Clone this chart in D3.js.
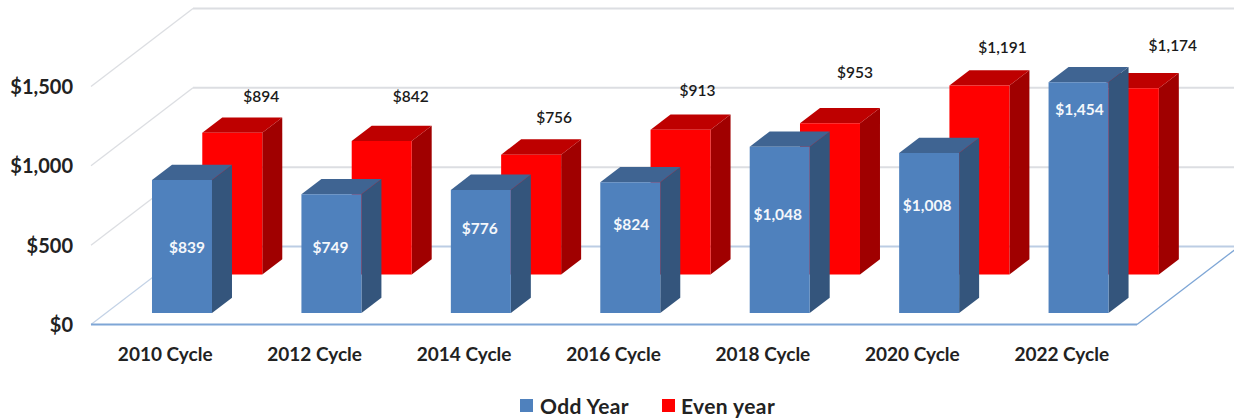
<!DOCTYPE html>
<html><head><meta charset="utf-8">
<script src="https://cdnjs.cloudflare.com/ajax/libs/d3/7.8.5/d3.min.js"></script>
<style>html,body{margin:0;padding:0;background:#fff}svg{display:block}text{font-family:Lato,"Open Sans",sans-serif}</style>
</head><body><svg id="c" width="1234" height="419"></svg>
<script>
const categories = ["2010 Cycle","2012 Cycle","2014 Cycle","2016 Cycle","2018 Cycle","2020 Cycle","2022 Cycle"];
const oddYear  = [839,749,776,824,1048,1008,1454];
const evenYear = [894,842,756,913,953,1191,1174];
const yTicks = [0,500,1000,1500];
const seriesNames = ["Odd Year","Even year"];
// where the hand-placed value labels sit, in dollars along the bar's own height
const oddLabelLevel  = [415,415,535,560,622,679,1283];
const evenLabelLevel = [1124,1124,992,1162,1276,1436,1449];
const oddLabelShift  = [5,-1,-1,1,-2,-2,1];
const evenLabelShift = [-1,-1,-7,-13,-5,-7,14];

const W=1234,H=419;
const svg=d3.select("#c");
const x=d3.scaleBand().domain(categories).range([91,1137]).paddingInner(0).paddingOuter(0);
const y=d3.scaleLinear().domain([0,1500]).range([324.5,86.5]);
const zx=d3.scaleLinear().domain([0,1]).range([0,102]);
const zy=d3.scaleLinear().domain([0,1]).range([0,-78]);
const P=(px,v,z)=>[px+zx(z),y(v)+zy(z)];
const line=d3.line();
const money=d3.format("$,");
const barW=60, barOff=46;
const zones=[{z0:.64,z1:.836,vals:evenYear,front:"#ff0000",side:"#a00000",top:"#be0000"},
             {z0:.147,z1:.343,vals:oddYear,front:"#4f81bd",side:"#34557c",top:"#3f6492"}];

// walls
const gridC="#dcdee2";
yTicks.slice(1).forEach(t=>{
  svg.append("path").attr("d",line([P(91,t,0),P(91,t,1)])).attr("fill","none").attr("stroke",gridC).attr("stroke-width",1.3);
  svg.append("path").attr("d",line([P(91,t,1),[W,P(91,t,1)[1]]])).attr("fill","none").attr("stroke",gridC).attr("stroke-width",2);
});
// floor
svg.append("path").attr("d",line([P(91,0,0),P(91,0,1)])).attr("fill","none").attr("stroke","#c3d2e6").attr("stroke-width",1.2);
svg.append("path").attr("d",line([P(91,0,1),[W,P(91,0,1)[1]]])).attr("fill","none").attr("stroke","#bccde4").attr("stroke-width",1.8);
svg.append("path").attr("d",line([P(1137,0,0),P(1137,0,1)])).attr("fill","none").attr("stroke","#7ea6d6").attr("stroke-width",1.3);
svg.append("path").attr("d",line([P(91,0,0),P(1137,0,0)])).attr("fill","none").attr("stroke","#7ea6d6").attr("stroke-width",1.8);

// bars
zones.forEach(s=>{
  const g=svg.append("g");
  const bars=g.selectAll("g").data(categories).join("g");
  const L=c=>x(c)+barOff, R=c=>x(c)+barOff+barW;
  const val=(c,i)=>s.vals[i];
  bars.append("path").attr("fill",s.side).attr("d",(c,i)=>line([P(R(c),0,s.z0),P(R(c),0,s.z1),P(R(c),val(c,i),s.z1),P(R(c),val(c,i),s.z0)])+"Z");
  bars.append("path").attr("fill",s.top).attr("d",(c,i)=>line([P(L(c),val(c,i),s.z0),P(L(c),val(c,i),s.z1),P(R(c),val(c,i),s.z1),P(R(c),val(c,i),s.z0)])+"Z");
  bars.append("path").attr("fill",s.front).attr("d",(c,i)=>line([P(L(c),0,s.z0),P(L(c),val(c,i),s.z0),P(R(c),val(c,i),s.z0),P(R(c),0,s.z0)])+"Z");
});

// value labels
const labelFont=15.5;
const red=zones[0], blue=zones[1];
svg.append("g").selectAll("text").data(categories).join("text")
  .attr("x",(c,i)=>P(x(c)+barOff+barW,0,red.z0)[0]+evenLabelShift[i])
  .attr("y",(c,i)=>P(0,evenLabelLevel[i],red.z0)[1])
  .attr("text-anchor","middle").attr("dominant-baseline","central")
  .attr("font-size",labelFont).attr("font-weight",600).attr("fill","#1a1a1a")
  .text((c,i)=>money(evenYear[i]));
svg.append("g").selectAll("text").data(categories).join("text")
  .attr("x",(c,i)=>P(x(c)+barOff+barW/2,0,blue.z0)[0]+oddLabelShift[i])
  .attr("y",(c,i)=>P(0,oddLabelLevel[i],blue.z0)[1])
  .attr("text-anchor","middle").attr("dominant-baseline","central")
  .attr("font-size",labelFont).attr("font-weight",700).attr("fill","#f4f7fb")
  .text((c,i)=>money(oddYear[i]));

// y axis labels
svg.append("g").selectAll("text").data(yTicks).join("text")
  .attr("x",73).attr("y",d=>y(d)-0.5).attr("text-anchor","end").attr("dominant-baseline","central")
  .attr("font-size",20).attr("font-weight",700).attr("fill","#222").text(d=>money(d));

// x axis labels
svg.append("g").selectAll("text").data(categories).join("text")
  .attr("x",c=>x(c)+x.bandwidth()/2-0.5).attr("y",353.5).attr("text-anchor","middle").attr("dominant-baseline","central")
  .attr("font-size",19).attr("font-weight",700).attr("fill","#222").text(c=>c);

// legend
const legX=[520,662], legC=[blue.front,red.front];
seriesNames.forEach((n,i)=>{
  svg.append("rect").attr("x",legX[i]).attr("y",399).attr("width",13).attr("height",13).attr("fill",legC[i]);
  svg.append("text").attr("x",legX[i]+20-i).attr("y",405.5).attr("dominant-baseline","central")
    .attr("font-size",21).attr("font-weight",700).attr("letter-spacing",0.4).attr("fill","#222").text(n);
});
</script></body></html>
